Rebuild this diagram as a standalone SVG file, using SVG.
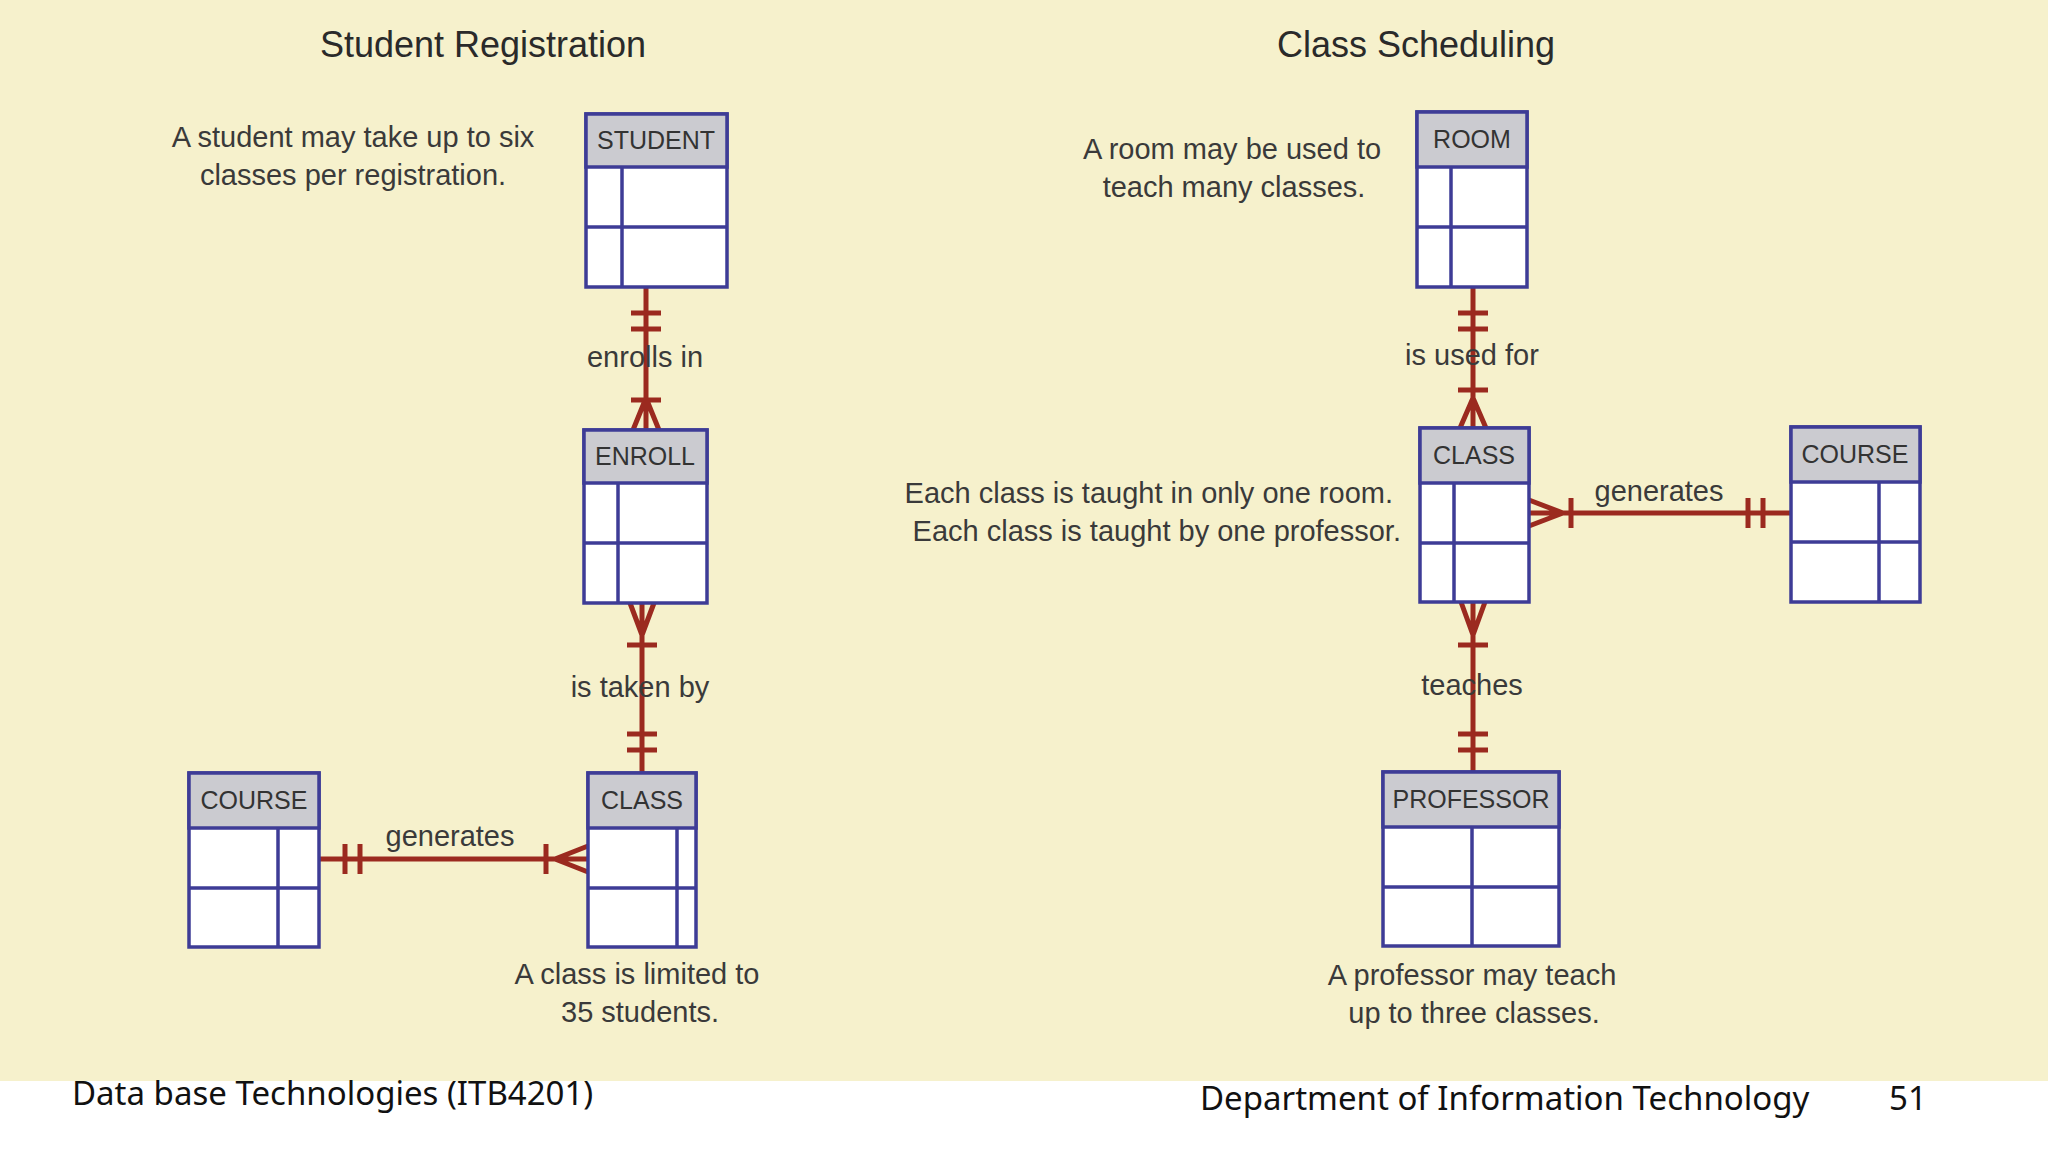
<svg xmlns="http://www.w3.org/2000/svg" width="2048" height="1152" viewBox="0 0 2048 1152">
<style>
.bx{fill:#fff;stroke:#3e3c96;stroke-width:3.5}
.hd{fill:#cbcbd0;stroke:#3e3c96;stroke-width:3.5}
.ln{stroke:#3e3c96;stroke-width:3.5}
.ht{font-family:"Liberation Sans",Arial,sans-serif;font-size:25px;fill:#333;text-anchor:middle}
.t{font-family:"Liberation Sans",Arial,sans-serif;font-size:29px;fill:#3a3a3a;text-anchor:middle}
.ti{font-family:"Liberation Sans",Arial,sans-serif;font-size:36px;fill:#2a2a2a;text-anchor:middle}
.c{stroke:#9b2a1f;stroke-width:5;fill:none}
.f{font-family:"Noto Sans","Open Sans",sans-serif;font-size:33px;fill:#111}
</style>
<rect width="2048" height="1152" fill="#fff"/>
<rect width="2048" height="1081" fill="#f6f1cc"/>
<text class="ti" x="483" y="57">Student Registration</text>
<text class="ti" x="1416" y="57">Class Scheduling</text>
<g id="connectors">
<path class="c" d="M646 287V430M631 313H661M631 329H661M646 398L633 430M646 398L659 430M631 400H661"/>
<path class="c" d="M642 603V773M642 635L630 603M642 635L654 603M627 645H657M627 734H657M627 750H657"/>
<path class="c" d="M319 859H588M345 844V874M360 844V874M555 859L588 846M555 859L588 872M546 844V874"/>
<path class="c" d="M1473 287V428M1458 313H1488M1458 329H1488M1473 398L1460 428M1473 398L1486 428M1458 390H1488"/>
<path class="c" d="M1529 513H1791M1563 513L1529 500M1563 513L1529 526M1571 498V528M1748 498V528M1763 498V528"/>
<path class="c" d="M1473 602V772M1473 635L1461 602M1473 635L1485 602M1458 645H1488M1458 734H1488M1458 750H1488"/>
</g>
<g id="labels">
<text class="t" x="645" y="367">enrolls in</text>
<text class="t" x="640" y="697">is taken by</text>
<text class="t" x="450" y="846">generates</text>
<text class="t" x="1472" y="365">is used for</text>
<text class="t" x="1659" y="501">generates</text>
<text class="t" x="1472" y="695">teaches</text>
</g>
<g id="student"><rect class="bx" x="586" y="114" width="141" height="173"/><rect class="hd" x="586" y="114" width="141" height="53"/><path class="ln" d="M622 167V287M586 227H727"/><text class="ht" x="656" y="149">STUDENT</text></g>
<g id="enroll"><rect class="bx" x="584" y="430" width="123" height="173"/><rect class="hd" x="584" y="430" width="123" height="53"/><path class="ln" d="M618 483V603M584 543H707"/><text class="ht" x="645" y="465">ENROLL</text></g>
<g id="class1"><rect class="bx" x="588" y="773" width="108" height="174"/><rect class="hd" x="588" y="773" width="108" height="55"/><path class="ln" d="M677 828V947M588 888H696"/><text class="ht" x="642" y="809">CLASS</text></g>
<g id="course1"><rect class="bx" x="189" y="773" width="130" height="174"/><rect class="hd" x="189" y="773" width="130" height="55"/><path class="ln" d="M278 828V947M189 888H319"/><text class="ht" x="254" y="809">COURSE</text></g>
<g id="room"><rect class="bx" x="1417" y="112" width="110" height="175"/><rect class="hd" x="1417" y="112" width="110" height="55"/><path class="ln" d="M1451 167V287M1417 227H1527"/><text class="ht" x="1472" y="148">ROOM</text></g>
<g id="class2"><rect class="bx" x="1420" y="428" width="109" height="174"/><rect class="hd" x="1420" y="428" width="109" height="55"/><path class="ln" d="M1454 483V602M1420 543H1529"/><text class="ht" x="1474" y="464">CLASS</text></g>
<g id="course2"><rect class="bx" x="1791" y="427" width="129" height="175"/><rect class="hd" x="1791" y="427" width="129" height="55"/><path class="ln" d="M1879 482V602M1791 542H1920"/><text class="ht" x="1855" y="463">COURSE</text></g>
<g id="professor"><rect class="bx" x="1383" y="772" width="176" height="174"/><rect class="hd" x="1383" y="772" width="176" height="55"/><path class="ln" d="M1472 827V946M1383 887H1559"/><text class="ht" x="1471" y="808">PROFESSOR</text></g>
<g id="notes">
<text class="t" x="353" y="147">A student may take up to six</text>
<text class="t" x="353" y="185">classes per registration.</text>
<text class="t" x="637" y="984">A class is limited to</text>
<text class="t" x="640" y="1022">35 students.</text>
<text class="t" x="1232" y="159">A room may be used to</text>
<text class="t" x="1234" y="197">teach many classes.</text>
<text class="t" x="1393" y="503" style="text-anchor:end">Each class is taught in only one room.</text>
<text class="t" x="1401" y="541" style="text-anchor:end">Each class is taught by one professor.</text>
<text class="t" x="1472" y="985">A professor may teach</text>
<text class="t" x="1474" y="1023">up to three classes.</text>
</g>
<text class="f" x="72" y="1105">Data base Technologies (ITB4201)</text>
<text class="f" x="1200" y="1110">Department of Information Technology</text>
<text class="f" x="1889" y="1110">51</text>
</svg>
